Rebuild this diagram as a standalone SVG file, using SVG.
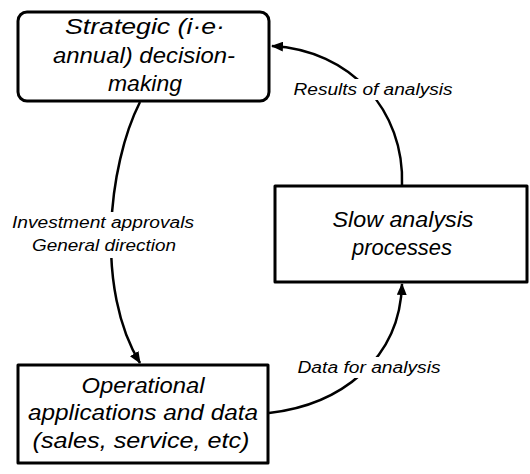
<svg xmlns="http://www.w3.org/2000/svg" width="530" height="474" viewBox="0 0 530 474">
<style>
.box{fill:#fff;stroke:#000;stroke-width:3;stroke-linejoin:round}
.nt{font-family:"Liberation Sans",Arial,sans-serif;font-style:italic;font-size:22px;fill:#000;text-anchor:middle}
.lt{font-family:"Liberation Sans",Arial,sans-serif;font-style:italic;font-size:16px;fill:#000;text-anchor:middle}
.edge{fill:none;stroke:#000;stroke-width:2.5}
.bg{fill:#fff}
</style>
<defs>
<marker id="ah" viewBox="0 0 12 10" refX="11" refY="5" markerWidth="12" markerHeight="10" markerUnits="userSpaceOnUse" orient="auto">
<path d="M0,0 L12,5 L0,10 Z" fill="#000"/>
</marker>
</defs>
<g id="connectors">
<path class="edge" d="M140,102 C108,165 95,290 140,363" marker-end="url(#ah)"/>
<path class="edge" d="M269,413 C340,405 400,360 402,284" marker-end="url(#ah)"/>
<path class="edge" d="M402,186 C405,110 350,50 272,46" marker-end="url(#ah)"/>
<rect class="bg" x="8" y="212" width="192" height="46"/>
<text class="lt" x="103" y="228" textLength="182" lengthAdjust="spacingAndGlyphs">Investment approvals</text>
<text class="lt" x="104" y="251" textLength="144" lengthAdjust="spacingAndGlyphs">General direction</text>
<rect class="bg" x="293" y="357" width="152" height="21"/>
<text class="lt" x="369" y="373" textLength="143" lengthAdjust="spacingAndGlyphs">Data for analysis</text>
<rect class="bg" x="289" y="79" width="168" height="21"/>
<text class="lt" x="373" y="95" textLength="159" lengthAdjust="spacingAndGlyphs">Results of analysis</text>
</g>
<g id="strategic">
<rect class="box" x="18" y="12" width="251" height="89" rx="9"/>
<text class="nt" x="145" y="34" textLength="160" lengthAdjust="spacingAndGlyphs">Strategic (i·e·</text>
<text class="nt" x="144" y="63" textLength="182" lengthAdjust="spacingAndGlyphs">annual) decision-</text>
<text class="nt" x="145" y="91" textLength="74" lengthAdjust="spacingAndGlyphs">making</text>
</g>
<g id="slow">
<rect class="box" x="275" y="186" width="252" height="96"/>
<text class="nt" x="403" y="227" textLength="141" lengthAdjust="spacingAndGlyphs">Slow analysis</text>
<text class="nt" x="402" y="255" textLength="100" lengthAdjust="spacingAndGlyphs">processes</text>
</g>
<g id="operational">
<rect class="box" x="18" y="365" width="250" height="98"/>
<text class="nt" x="143" y="393" textLength="123" lengthAdjust="spacingAndGlyphs">Operational</text>
<text class="nt" x="143" y="420" textLength="230" lengthAdjust="spacingAndGlyphs">applications and data</text>
<text class="nt" x="141" y="448" textLength="217" lengthAdjust="spacingAndGlyphs">(sales, service, etc)</text>
</g>
</svg>
